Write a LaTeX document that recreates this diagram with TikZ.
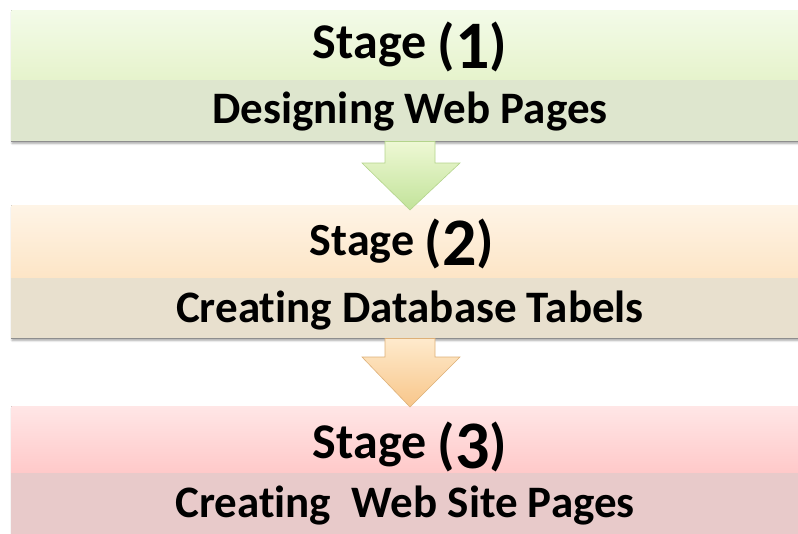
\documentclass[tikz,border=0pt]{standalone}
\usepackage{fontspec}
\setmainfont{Carlito}[Ligatures=NoCommon]
\usetikzlibrary{shadows.blur}
\definecolor{gTop}{HTML}{F3FBE8}
\definecolor{gBot}{HTML}{E6F3CC}
\definecolor{gBand}{HTML}{DEE6CE}
\definecolor{oTop}{HTML}{FEF4E6}
\definecolor{oBot}{HTML}{FDE5C6}
\definecolor{oBand}{HTML}{E8E0CE}
\definecolor{rTop}{HTML}{FFE6E6}
\definecolor{rBot}{HTML}{FFC9C9}
\definecolor{rBand}{HTML}{E8CACA}
\definecolor{bord}{HTML}{8E8E8E}
\definecolor{agTop}{HTML}{EEF8D4}
\definecolor{agBot}{HTML}{C2E39A}
\definecolor{agLine}{HTML}{B4D48C}
\definecolor{aoTop}{HTML}{FEEACC}
\definecolor{aoBot}{HTML}{F8C68A}
\definecolor{aoLine}{HTML}{DDB078}
\tikzset{
  boxshade/.style={draw=bord, line width=0.8pt, blur shadow={shadow xshift=1pt, shadow yshift=-2.5pt, shadow blur steps=6, shadow opacity=35}},
  stagetxt/.style={anchor=base, inner sep=0pt, font=\bfseries\fontsize{50}{54}\selectfont},
  stagesmall/.style={anchor=base, inner sep=0pt, font=\bfseries\fontsize{46}{50}\selectfont},
  subtxt/.style={anchor=base, inner sep=0pt, font=\bfseries\fontsize{45}{50}\selectfont},
  flowarrow/.style={line width=0.6pt, line join=miter}
}
\newcommand{\bignum}[1]{\raisebox{-10pt}{\fontsize{68}{70}\selectfont #1}}
\newcommand{\bigpar}[1]{\raisebox{-5pt}{\fontsize{56}{60}\selectfont #1}}
\begin{document}
\begin{tikzpicture}[x=1pt,y=-1pt]
\useasboundingbox (0,0) rectangle (798,533);
\begin{scope}
\clip (0,0) rectangle (798,533);
% box 1
\path[boxshade, fill=gBand] (11,10) rectangle (812,141);
\shade[top color=gTop, bottom color=gBot] (11.4,10.4) rectangle (811,80);
\fill[gBand] (11.4,80) rectangle (811,140.6);
% box 2
\path[boxshade, fill=oBand] (11,205) rectangle (812,338);
\shade[top color=oTop, bottom color=oBot] (11.4,205.4) rectangle (811,278);
\fill[oBand] (11.4,278) rectangle (811,337.6);
% box 3
\path[boxshade, fill=rBand] (11,406) rectangle (812,560);
\shade[top color=rTop, bottom color=rBot] (11.4,406.4) rectangle (811,473);
\fill[rBand] (11.4,473) rectangle (811,559);
\end{scope}
% arrows
\shade[flowarrow, draw=agLine, top color=agTop, bottom color=agBot]
  (385,141.5) -- (435,141.5) -- (435,163) -- (460,163) -- (410,210) -- (362,163) -- (385,163) -- cycle;
\shade[flowarrow, draw=aoLine, top color=aoTop, bottom color=aoBot]
  (385,338.5) -- (435,338.5) -- (435,357) -- (460,357) -- (410,407) -- (362,357) -- (385,357) -- cycle;
% texts
\node[stagetxt] (s1) at (410,58) {Stage \bigpar{(}\bignum{1}\bigpar{)}};
\node[subtxt] (t1) at (410,123) {Designing Web Pages};
\node[stagesmall] (s2) at (402,255) {Stage \bigpar{(}\bignum{2}\bigpar{)}};
\node[subtxt] (t2) at (410,322) {Creating Database Tabels};
\node[stagetxt] (s3) at (410,458) {Stage \bigpar{(}\bignum{3}\bigpar{)}};
\node[subtxt] (t3) at (405,517) {Creating\ \ Web Site Pages};
\end{tikzpicture}
\end{document}
